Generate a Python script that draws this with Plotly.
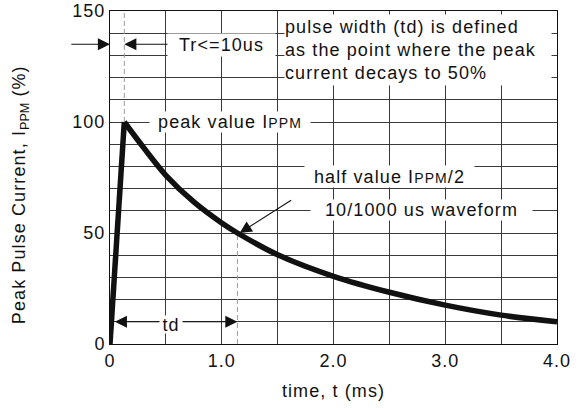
import plotly.graph_objects as go

# ---- data ----
rise_time_ms = [0.0, 0.128]
rise_current = [0, 100]
decay_time_ms = [0.128, 0.3, 0.5, 0.75, 1.0, 1.14, 1.5, 2.0, 2.5, 3.0, 3.5, 4.0]
decay_current = [100, 88.5, 76, 64, 54.5, 50, 40.2, 30.5, 23.3, 17.5, 13, 10]
peak_time_ms = 0.128
half_time_ms = 1.14
x_tick_vals = [0, 1, 2, 3, 4]
x_tick_text = ["0", "1.0", "2.0", "3.0", "4.0"]
y_tick_vals = [0, 50, 100, 150]
y_tick_text = ["0", "50", "100", "150"]

FONT = "Liberation Sans"
FS = 18
BLACK = "#111111"
GRID = "#3a3a3a"


def ls(s, sp=1.1):
    return "<span style='letter-spacing:%spx'>%s</span>" % (sp, s)


small = "<span style='font-size:14px;letter-spacing:1.1px'>PPM</span>"

fig = go.Figure()

# dashed guide lines
fig.add_trace(go.Scatter(x=[peak_time_ms, peak_time_ms], y=[100, 150], mode="lines",
                         line=dict(color="#9a9a9a", width=1, dash="5px,3px"),
                         hoverinfo="skip", showlegend=False))
fig.add_trace(go.Scatter(x=[half_time_ms, half_time_ms], y=[0, 50], mode="lines",
                         line=dict(color="#9a9a9a", width=1, dash="5px,3px"),
                         hoverinfo="skip", showlegend=False))

# waveform
fig.add_trace(go.Scatter(x=rise_time_ms, y=rise_current, mode="lines",
                         line=dict(color=BLACK, width=5.5), showlegend=False))
fig.add_trace(go.Scatter(x=decay_time_ms, y=decay_current, mode="lines",
                         line=dict(color=BLACK, width=5.5, shape="spline", smoothing=0.9),
                         showlegend=False))

arrow_common = dict(showarrow=True, arrowhead=2, arrowsize=2.2, arrowwidth=1.1,
                    arrowcolor=BLACK, text="", xref="x", yref="y", axref="x", ayref="y",
                    standoff=0, startstandoff=0)

annotations = [
    # Tr arrows
    dict(x=0, y=135, ax=-0.36, ay=135, **arrow_common),
    dict(x=peak_time_ms, y=135, ax=0.54, ay=135, **arrow_common),
    # td double arrow
    dict(x=half_time_ms, y=10, ax=0.03, ay=10, arrowside="end+start", **arrow_common),
    # waveform arrow
    dict(x=half_time_ms + 0.02, y=50, ax=1.634, ay=65.2, **arrow_common),
]

text_common = dict(xref="x", yref="y", showarrow=False, bgcolor="white",
                   font=dict(family=FONT, size=FS, color=BLACK), borderpad=0)

annotations += [
    dict(x=1.0, y=134.5, text=ls("Tr<=10us"), width=107, height=22, **text_common),
    dict(x=1.56, y=148.8, xanchor="left", yanchor="top", align="left", width=266, height=70,
         text=ls("pulse width (td) is defined") + "<br>" + ls("as the point where the peak")
         + "<br>" + ls("current decays to 50%"),
         **text_common),
    dict(x=1.07, y=100, width=160, height=20,
         text=ls("peak value I") + small, **text_common),
    dict(x=2.504, y=75.3, width=169, height=21,
         text=ls("half value I") + small + ls("/2"), **text_common),
    dict(x=2.79, y=60.3, width=221, height=20, text=ls("10/1000 us waveform"), **text_common),
    dict(x=0.545, y=9, width=22, height=17, text=ls("td"), **text_common),
    # y-axis title
    dict(xref="paper", yref="paper", x=-0.2013, y=0.447, xanchor="center", yanchor="middle",
         textangle=-90, showarrow=False, font=dict(family=FONT, size=FS, color=BLACK),
         text=ls("Peak Pulse Current, I") + "<sub>PPM</sub>" + ls(" (%)")),
]

axis_common = dict(showline=True, linecolor=BLACK, linewidth=1, mirror=True,
                   showgrid=True, gridcolor=GRID, gridwidth=1, zeroline=False,
                   ticks="", automargin=False,
                   tickfont=dict(family=FONT, size=FS, color=BLACK))

fig.update_layout(
    width=587, height=408,
    margin=dict(l=110, r=30, t=11, b=64),
    paper_bgcolor="white", plot_bgcolor="white",
    font=dict(family=FONT, size=FS, color=BLACK),
    xaxis=dict(range=[0, 4], tickvals=x_tick_vals, ticktext=[ls(t, 1) for t in x_tick_text],
               title=dict(text=ls("time, t (ms)"), font=dict(family=FONT, size=FS), standoff=14),
               **axis_common),
    yaxis=dict(range=[0, 150], tickvals=y_tick_vals, ticktext=[ls(t, 1) for t in y_tick_text],
               **axis_common),
    annotations=annotations,
    showlegend=False,
)
# minor grid: vertical every 0.5, horizontal every 10
fig.update_xaxes(minor=dict(dtick=0.5, showgrid=True, gridcolor=GRID, gridwidth=1, ticks=""))
fig.update_yaxes(minor=dict(dtick=10, showgrid=True, gridcolor=GRID, gridwidth=1, ticks=""))

fig.write_html("out.html", config={"displayModeBar": False},
               post_script="document.body.style.margin='0';")
